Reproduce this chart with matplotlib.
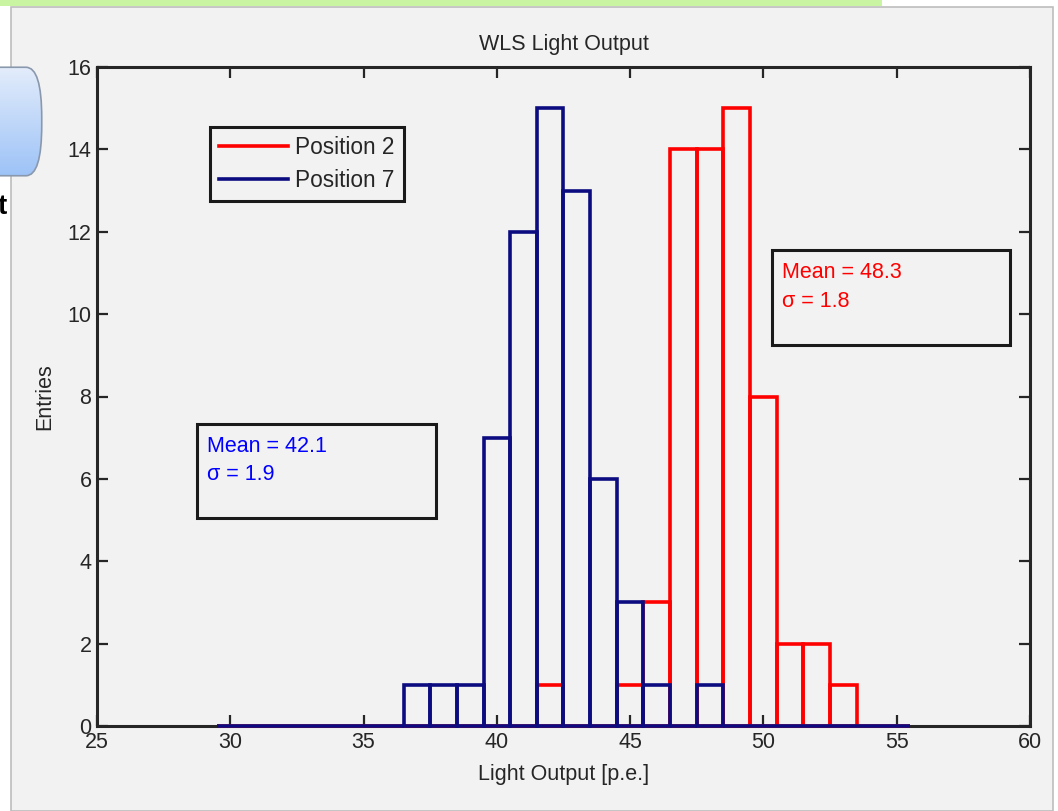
import numpy as np
import matplotlib
matplotlib.use("Agg")
import matplotlib.pyplot as plt
from matplotlib.patches import Rectangle, FancyBboxPatch
from matplotlib.colors import LinearSegmentedColormap

# ---------------- data ----------------
bin_centers = list(range(30, 56))
pos2_counts = [0, 0, 0, 0, 0, 0, 0, 0, 0, 0, 0, 0, 1, 0, 0, 1, 3, 14, 14, 15, 8, 2, 2, 1, 0, 0]
pos7_counts = [0, 0, 0, 0, 0, 0, 0, 1, 1, 1, 7, 12, 15, 13, 6, 3, 1, 0, 1, 0, 0, 0, 0, 0, 0, 0]
series_labels = ["Position 2", "Position 7"]
stat_pos2 = ["Mean = 48.3", "\u03c3 = 1.8"]
stat_pos7 = ["Mean = 42.1", "\u03c3 = 1.9"]
x_ticks = [25, 30, 35, 40, 45, 50, 55, 60]
y_ticks = [0, 2, 4, 6, 8, 10, 12, 14, 16]
title = "WLS Light Output"
xlabel = "Light Output [p.e.]"
ylabel = "Entries"

# ---------------- style ----------------
W, H = 1058, 811
BG = "#f2f2f2"
RED = "#ff0000"
NAVY = "#0c0c80"
DARK = "#262626"
FS = 15.5
plt.rcParams["font.family"] = ["Liberation Sans", "DejaVu Sans"]

fig = plt.figure(figsize=(W / 100, H / 100), dpi=100)
fig.patch.set_facecolor("white")


def fx(px):
    return px / W


def fy(py):
    return 1 - py / H


# slide artifacts around the screenshot
fig.patches.append(Rectangle((fx(11), fy(811)), fx(1053) - fx(11), fy(7) - fy(811),
                             transform=fig.transFigure, facecolor=BG,
                             edgecolor="#bdbdbd", linewidth=1.2, zorder=-10))
fig.patches.append(Rectangle((0, fy(6)), fx(882), fy(0) - fy(6),
                             transform=fig.transFigure, facecolor="#c9f5a3",
                             edgecolor="none", zorder=-9))

# axes
L, R, T, B = 97, 1030, 67, 726
ax = fig.add_axes([fx(L), fy(B), fx(R) - fx(L), fy(T) - fy(B)])
ax.set_facecolor(BG)

ax.bar(bin_centers, pos2_counts, width=1.0, align="center", fill=False,
       edgecolor=RED, linewidth=2.6, zorder=3, clip_on=False)
ax.bar(bin_centers, pos7_counts, width=1.0, align="center", fill=False,
       edgecolor=NAVY, linewidth=2.6, zorder=4, clip_on=False)

ax.set_xlim(25, 60)
ax.set_ylim(0, 16)
ax.set_xticks(x_ticks)
ax.set_yticks(y_ticks)
ax.tick_params(direction="in", length=8, width=1.6, colors=DARK, labelsize=FS,
               top=True, right=True, pad=4)
for s in ax.spines.values():
    s.set_color(DARK)
    s.set_linewidth(2.2)

ax.set_title(title, fontsize=FS, color=DARK, pad=12)
ax.set_xlabel(xlabel, fontsize=FS, color=DARK, labelpad=8)
ax.set_ylabel(ylabel, fontsize=FS, color=DARK, labelpad=9)

# legend
LFS = 16.3
h1, = ax.plot([], [], color=RED, linewidth=2.6)
h2, = ax.plot([], [], color=NAVY, linewidth=2.6)
leg = ax.legend([h1, h2], series_labels, loc="upper left",
                bbox_to_anchor=((210 - L) / (R - L), (B - 127) / (B - T)),
                borderaxespad=0, fontsize=LFS, frameon=True, fancybox=False,
                handlelength=3.05, handletextpad=0.32, labelspacing=0.45,
                borderpad=0.4, framealpha=1)
leg.get_frame().set_edgecolor("#1a1a1a")
leg.get_frame().set_linewidth(2.2)
leg.get_frame().set_facecolor(BG)
for t in leg.get_texts():
    t.set_color(DARK)


def px2data(px, py):
    return 25 + (px - L) / (R - L) * 35, (B - py) / (B - T) * 16


def stat_box(x0, y0, x1, y1, lines, color):
    a0 = px2data(x0, y1)
    a1 = px2data(x1, y0)
    ax.add_patch(Rectangle(a0, a1[0] - a0[0], a1[1] - a0[1], fill=False,
                           edgecolor="#1a1a1a", linewidth=2.2, zorder=5))
    for i, line in enumerate(lines):
        tx, ty = px2data(x0 + 10, y0 + 22 + i * 29)
        ax.text(tx, ty, line, color=color, fontsize=FS, va="center", ha="left", zorder=6)


stat_box(772, 250, 1010, 345, stat_pos2, RED)
stat_box(197, 424, 436, 518, stat_pos7, "#0000ff")

# rounded blue box and stray text at the left edge (slide background)
gax = fig.add_axes([fx(-20), fy(178), fx(43) - fx(-20), fy(65) - fy(178)])
gax.axis("off")
grad = np.linspace(0, 1, 100)[:, None]
cm = LinearSegmentedColormap.from_list("g", ["#e4edfb", "#9cc2f7"])
im = gax.imshow(grad, aspect="auto", cmap=cm, extent=(0, 1, 0, 1), origin="upper")
gax.set_xlim(0, 1)
gax.set_ylim(0, 1)
clip = FancyBboxPatch((0.02, 0.02), 0.96, 0.96, boxstyle="round,pad=0,rounding_size=0.25",
                      transform=gax.transAxes, facecolor="none", edgecolor="#8a98ad",
                      linewidth=1.2, mutation_aspect=113 / 63)
gax.add_patch(clip)
im.set_clip_path(clip)
fig.text(fx(-2), fy(207), "t", fontsize=20, fontweight="bold", color="black",
         ha="left", va="center")

fig.savefig("out.png", dpi=100, facecolor=fig.get_facecolor())
